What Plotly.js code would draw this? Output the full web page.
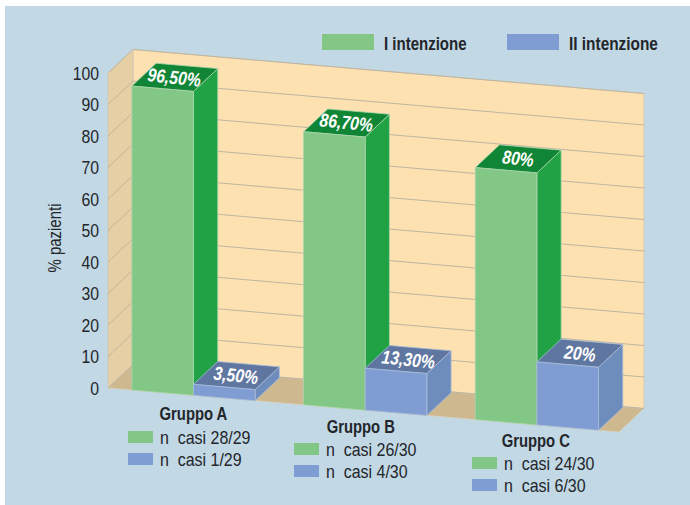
<!DOCTYPE html>
<html><head><meta charset="utf-8">
<script src="https://cdn.plot.ly/plotly-3.0.1.min.js"></script>
<style>html,body{margin:0;padding:0;background:#fff;overflow:hidden}#chart{position:absolute;left:5px;top:6px;width:685px;height:499px}</style>
</head><body><div id="chart"></div>
<script>
// ---- data ----
const groups = ['Gruppo A', 'Gruppo B', 'Gruppo C'];
const firstIntention = [96.5, 86.7, 80];
const secondIntention = [3.5, 13.3, 20];
const firstLabels = ['96,50%', '86,70%', '80%'];
const secondLabels = ['3,50%', '13,30%', '20%'];
const firstCases = ['n\u00a0\u00a0casi 28/29', 'n\u00a0\u00a0casi 26/30', 'n\u00a0\u00a0casi 24/30'];
const secondCases = ['n\u00a0\u00a0casi 1/29', 'n\u00a0\u00a0casi 4/30', 'n\u00a0\u00a0casi 6/30'];
const seriesNames = ['I intenzione', 'II intenzione'];
const yTicks = [0, 10, 20, 30, 40, 50, 60, 70, 80, 90, 100];

// ---- page geometry of the oblique projection ----
const DIV_L = 5, DIV_T = 6, DIV_W = 685, DIV_H = 499, M_L = 97, M_B = 35;
const PX_PER_GROUP = 171.7, PX_PER_PCT = 3.15;
const ORIGIN_X = 193.5, ORIGIN_Y = 388;   // page px of x=0 (first group centre), y=0, front plane
const SLOPE = 0.0861, DEPTH_X = 25, DEPTH_Y = 23.5;
const BAR_W = 0.359, BAR_DEPTH = 0.97;
const WALL_L = -0.498, WALL_R = 2.478;

// group coordinate g, value v, depth d (0 front, 1 back) -> data coordinates
function project(g, v, d) {
  const px = g * PX_PER_GROUP;
  return [g + d * DEPTH_X / PX_PER_GROUP,
          v + (d * DEPTH_Y - (px - WALL_L * PX_PER_GROUP) * SLOPE) / PX_PER_PCT];
}
const xRange = [(DIV_L + M_L - ORIGIN_X) / PX_PER_GROUP, (DIV_L + DIV_W - ORIGIN_X) / PX_PER_GROUP];
const yRange = [(ORIGIN_Y - (DIV_T + DIV_H - M_B)) / PX_PER_PCT, (ORIGIN_Y - DIV_T) / PX_PER_PCT];

// page px -> paper fraction
const plotW = DIV_W - M_L, plotH = DIV_H - M_B;
const paperX = px => (px - DIV_L - M_L) / plotW;
const paperY = py => 1 - (py - DIV_T) / plotH;

function polys(list) {
  const x = [], y = [];
  list.forEach(p => {
    p.forEach(q => { const r = project(q[0], q[1], q[2]); x.push(r[0]); y.push(r[1]); });
    const r0 = project(p[0][0], p[0][1], p[0][2]); x.push(r0[0]); y.push(r0[1]);
    x.push(null); y.push(null);
  });
  return {x, y};
}
function face(name, list, fill, line, w) {
  const o = polys(list);
  return {type: 'scatter', mode: 'lines', name, x: o.x, y: o.y, fill: 'toself', fillcolor: fill,
          line: {color: line, width: w === undefined ? 0.8 : w}, hoverinfo: 'skip', showlegend: false};
}

const traces = [];
// walls and floor
traces.push(face('wall', [[[WALL_L,0,1],[WALL_R,0,1],[WALL_R,100,1],[WALL_L,100,1]]], '#FDE1B1', '#CFC8B6'));
traces.push(face('side', [[[WALL_L,0,0],[WALL_L,0,1],[WALL_L,100,1],[WALL_L,100,0]]], '#E6CFA4', '#CFC8B6'));
traces.push(face('floor', [[[WALL_L,0,0],[WALL_R,0,0],[WALL_R,0,1],[WALL_L,0,1]]], '#CEB88F', '#D8D0BC'));
// gridlines
const gx = [], gy = [];
yTicks.forEach(t => {
  [[WALL_L,t,0],[WALL_L,t,1],[WALL_R,t,1]].forEach(q => { const r = project(q[0],q[1],q[2]); gx.push(r[0]); gy.push(r[1]); });
  gx.push(null); gy.push(null);
});
traces.push({type:'scatter', mode:'lines', name:'grid', x:gx, y:gy, line:{color:'#BFB5A0', width:1}, hoverinfo:'skip', showlegend:false});

// bars
function barFaces(values, g0, colors, name) {
  const side = [], top = [], front = [];
  values.forEach((v, i) => {
    const a = i + g0, b = a + BAR_W;
    side.push([[b,0,0],[b,0,BAR_DEPTH],[b,v,BAR_DEPTH],[b,v,0]]);
    top.push([[a,v,0],[b,v,0],[b,v,BAR_DEPTH],[a,v,BAR_DEPTH]]);
    front.push([[a,0,0],[b,0,0],[b,v,0],[a,v,0]]);
  });
  traces.push(face(name + ' side', side, colors.side, colors.line));
  traces.push(face(name + ' top', top, colors.top, colors.line));
  traces.push(face(name + ' front', front, colors.front, colors.line));
}
const GREEN = {front:'#82C785', side:'#20A245', top:'#108536', line:'#A9D6AC'};
const BLUE = {front:'#7F9DD2', side:'#6F8DBC', top:'#5E76A0', line:'#A9BCD9'};
barFaces(firstIntention, -BAR_W, GREEN, seriesNames[0]);
barFaces(secondIntention, 0, BLUE, seriesNames[1]);

// annotations & shapes
const annotations = [], shapes = [], squeeze = [];
const TEXT = '#23262b';
const FONT = '"Liberation Sans",sans-serif';
function valueLabel(txt, g, v) {
  const p = project(g, v, BAR_DEPTH * 0.5);
  annotations.push({x:p[0], y:p[1], xref:'x', yref:'y', text:'<b><i>'+txt+'</i></b>', showarrow:false, textangle:6,
    font:{family:FONT, size:19, color:'#fff'}});
  squeeze.push(0.83);
}
groups.forEach((g, i) => {
  valueLabel(firstLabels[i], i - BAR_W/2, firstIntention[i]);
  valueLabel(secondLabels[i], i + BAR_W/2, secondIntention[i]);
});
function pageText(txt, x, y, anchor, size, factor) {
  annotations.push({x:paperX(x), y:paperY(y), xref:'paper', yref:'paper', text:txt, showarrow:false, xanchor:anchor, yanchor:'middle',
    font:{family:FONT, size, color:TEXT}});
  squeeze.push(factor);
}
function swatch(x0, y0, x1, y1, color) {
  shapes.push({type:'rect', xref:'paper', yref:'paper', x0:paperX(x0), x1:paperX(x1), y0:paperY(y0), y1:paperY(y1),
    fillcolor:color, line:{width:0}, layer:'above'});
}
// top legend
swatch(322, 34, 374, 50, GREEN.front);
pageText('<b>'+seriesNames[0]+'</b>', 382, 43, 'left', 19, 0.79);
swatch(507, 34, 559, 50, BLUE.front);
pageText('<b>'+seriesNames[1]+'</b>', 567, 43, 'left', 19, 0.81);
// group captions
const captionX = [193, 361, 536], captionY = [413, 426, 440];
const swatchX = [128, 294, 472], swatchY = [431, 443, 457];
groups.forEach((g, i) => {
  pageText('<b>'+g+'</b>', captionX[i], captionY[i], 'center', 19, 0.78);
  swatch(swatchX[i], swatchY[i], swatchX[i]+25, swatchY[i]+12, GREEN.front);
  swatch(swatchX[i], swatchY[i]+22, swatchX[i]+25, swatchY[i]+34, BLUE.front);
  pageText(firstCases[i], swatchX[i]+30, swatchY[i]+6, 'left', 19, 0.84);
  pageText(secondCases[i], swatchX[i]+30, swatchY[i]+28, 'left', 19, 0.84);
});

const layout = {
  width: DIV_W, height: DIV_H,
  margin: {l: M_L, r: 0, t: 0, b: M_B, pad: 0},
  paper_bgcolor: '#C2D8E4', plot_bgcolor: 'rgba(0,0,0,0)',
  showlegend: false,
  xaxis: {range: xRange, visible: false, fixedrange: true},
  yaxis: {range: yRange, tickmode: 'array', tickvals: yTicks, ticktext: yTicks.map(String), showgrid: false, zeroline: false,
    showline: false, ticks: '', fixedrange: true, ticklabelstandoff: 2, tickfont: {family: FONT, size: 19, color: TEXT},
    title: {text: '% pazienti', font: {family: FONT, size: 18, color: TEXT}, standoff: 0}},
  annotations, shapes,
  hovermode: false
};

// The reference uses a condensed face; squeeze the real text horizontally to match.
function condense(el, factor) {
  const w = el.getComputedTextLength();
  el.setAttribute('textLength', (w * factor).toFixed(2));
  el.setAttribute('lengthAdjust', 'spacingAndGlyphs');
  return w - w * factor;
}
Plotly.newPlot('chart', traces, layout, {displayModeBar: false, staticPlot: true}).then(gd => {
  gd.querySelectorAll('.ytick text, .ytitle').forEach(el => condense(el, 0.83));
  gd.querySelectorAll('.annotation').forEach(node => {
    const idx = +node.getAttribute('data-index');
    const el = node.querySelector('text');
    const lost = condense(el, squeeze[idx]);
    if (annotations[idx].xanchor === 'left') el.setAttribute('x', parseFloat(el.getAttribute('x')) - lost / 2);
  });
});
</script></body></html>
